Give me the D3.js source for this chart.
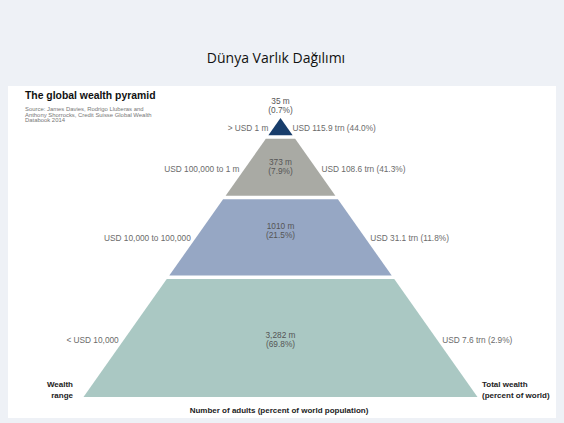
<!DOCTYPE html>
<html><head><meta charset="utf-8">
<script src="https://cdn.jsdelivr.net/npm/d3@7"></script>
<style>body{margin:0;background:#eef1f6}svg{display:block}</style>
</head><body>
<script>
// ---- data ----
const wealthRanges = ["> USD 1 m", "USD 100,000 to 1 m", "USD 10,000 to 100,000", "< USD 10,000"];
const adultsMillions = ["35", "373", "1010", "3,282"];
const adultsPct = [0.7, 7.9, 21.5, 69.8];
const wealthTrn = [115.9, 108.6, 31.1, 7.6];
const wealthPct = [44.0, 41.3, 11.8, 2.9];
const bandColors = ["#183d6b", "#a9aaa4", "#96a7c4", "#aac8c3"];
// layout: relative band boundaries of the pyramid (top to bottom)
const bandEdges = [0, 0.068, 0.285, 0.571, 1];

const W = 564, H = 423;
const svg = d3.select("body").append("svg").attr("width", W).attr("height", H);
svg.append("rect").attr("width", W).attr("height", H).attr("fill", "#eef1f6");
svg.append("rect").attr("x", 8).attr("y", 86).attr("width", 548).attr("height", 332).attr("fill", "#ffffff");

svg.append("text").attr("x", 276).attr("y", 63).attr("text-anchor", "middle")
  .attr("font-family", "Open Sans, Liberation Sans, sans-serif").attr("font-size", 14).attr("fill", "#111")
  .text("Dünya Varlık Dağılımı");

const sans = "Liberation Sans, Arial, sans-serif";
svg.append("text").attr("x", 25).attr("y", 99).attr("font-family", sans).attr("font-weight", "bold")
  .attr("font-size", 10.4).attr("fill", "#111").text("The global wealth pyramid");
["Source: James Davies, Rodrigo Lluberas and", "Anthony Shorrocks, Credit Suisse Global Wealth", "Databook 2014"]
  .forEach((t, i) => svg.append("text").attr("x", 25).attr("y", 111 + i * 5.6).attr("font-family", sans)
    .attr("font-size", 5.9).attr("fill", "#777").text(t));

const cx = 280.5, apexY = 118, baseY = 397, halfBase = 197;
const y = d3.scaleLinear().domain([0, 1]).range([apexY, baseY]);
const hw = d3.scaleLinear().domain([apexY, baseY]).range([0, halfBase]);
const gap = 1.8;

const bands = adultsPct.map((p, i) => ({
  i, top: y(bandEdges[i]) + (i ? gap : 0), bot: y(bandEdges[i + 1]) - (i < 3 ? gap : 0)
}));

svg.selectAll("path.band").data(bands).join("path").attr("class", "band")
  .attr("fill", d => bandColors[d.i])
  .attr("d", d => {
    const t = hw(d.top), b = hw(d.bot);
    return d3.line()([[cx - t, d.top], [cx + t, d.top], [cx + b, d.bot], [cx - b, d.bot]]) + "Z";
  });

const fs = 8.3, grey = "#6b6b6b";
// center labels
const centerY = [104, 165, 229, 338];
bands.forEach(d => {
  const yy = centerY[d.i];
  svg.append("text").attr("x", cx).attr("y", yy).attr("text-anchor", "middle").attr("font-family", sans)
    .attr("font-size", fs).attr("fill", "#555").text(adultsMillions[d.i] + " m");
  svg.append("text").attr("x", cx).attr("y", yy + 9.3).attr("text-anchor", "middle").attr("font-family", sans)
    .attr("font-size", fs).attr("fill", "#555").text("(" + adultsPct[d.i].toFixed(1) + "%)");
});
// side labels
const sideY = [131, 172, 241, 343];
bands.forEach(d => {
  const yy = sideY[d.i];
  const w = hw(yy - 3);
  svg.append("text").attr("x", cx - w - 5).attr("y", yy).attr("text-anchor", "end").attr("font-family", sans)
    .attr("font-size", fs).attr("fill", grey).text(wealthRanges[d.i]);
  svg.append("text").attr("x", cx + w + 5).attr("y", yy).attr("text-anchor", "start").attr("font-family", sans)
    .attr("font-size", fs).attr("fill", grey)
    .text("USD " + wealthTrn[d.i].toFixed(1) + " trn (" + wealthPct[d.i].toFixed(1) + "%)");
});

const bold = (x, yy, t, anchor) => svg.append("text").attr("x", x).attr("y", yy).attr("text-anchor", anchor)
  .attr("font-family", sans).attr("font-weight", "bold").attr("font-size", 8).attr("fill", "#222").text(t);
bold(73, 387, "Wealth", "end");
bold(73, 398, "range", "end");
bold(482, 387, "Total wealth", "start");
bold(482, 398, "(percent of world)", "start");
bold(279, 413, "Number of adults (percent of world population)", "middle");
</script>
</body></html>
